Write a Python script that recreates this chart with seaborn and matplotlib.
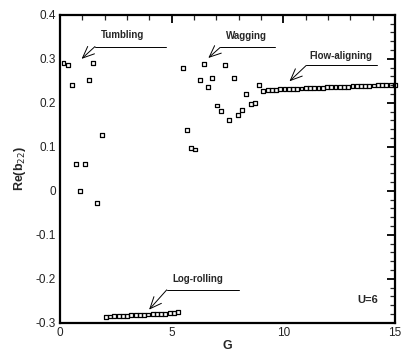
import numpy as np
import pandas as pd
import matplotlib
matplotlib.use('Agg')
import matplotlib.pyplot as plt
import seaborn as sns

# values
tumbling_g = [0.16, 0.35, 0.54, 0.73, 0.92, 1.11, 1.30, 1.49, 1.68, 1.87]
tumbling_b22 = [0.291, 0.287, 0.240, 0.062, 0.000, 0.062, 0.253, 0.290, -0.028, 0.127]

logroll_g = [2.06, 2.25, 2.44, 2.63, 2.82, 3.01, 3.20, 3.39, 3.58, 3.77,
             3.96, 4.15, 4.34, 4.53, 4.72, 4.91, 5.10, 5.29]
logroll_b22 = [-0.286, -0.2855, -0.285, -0.2845, -0.284, -0.2835, -0.283, -0.2825, -0.282,
               -0.2815, -0.281, -0.2805, -0.280, -0.2795, -0.279, -0.278, -0.277, -0.276]

wagging_g = [5.49, 5.68, 5.87, 6.06, 6.25, 6.44, 6.63, 6.82, 7.01, 7.20,
             7.39, 7.58, 7.77, 7.96, 8.15, 8.34, 8.53, 8.72, 8.91]
wagging_b22 = [0.280, 0.138, 0.098, 0.094, 0.252, 0.289, 0.236, 0.256, 0.194, 0.181,
               0.286, 0.161, 0.256, 0.172, 0.183, 0.220, 0.198, 0.200, 0.241]

flow_g = [9.10, 9.29, 9.48, 9.67, 9.86, 10.05, 10.24, 10.43, 10.62, 10.81, 11.00,
          11.19, 11.38, 11.57, 11.76, 11.95, 12.14, 12.33, 12.52, 12.71, 12.90,
          13.09, 13.28, 13.47, 13.66, 13.85, 14.04, 14.23, 14.42, 14.61, 14.80, 14.99]
flow_b22 = [0.228, 0.229, 0.2295, 0.230, 0.2305, 0.231, 0.2315, 0.232, 0.2323, 0.2326, 0.233,
            0.2334, 0.2338, 0.2342, 0.2346, 0.235, 0.2354, 0.2358, 0.2362, 0.2366, 0.237,
            0.2374, 0.2378, 0.2382, 0.2386, 0.239, 0.2394, 0.2398, 0.2402, 0.2405, 0.2408, 0.241]

yticks = [-0.3, -0.2, -0.1, 0, 0.1, 0.2, 0.3, 0.4]
ytick_labels = ['-0.3', '-0.2', '-0.1', '0', '0.1', '0.2', '0.3', '0.4']
xticks = [0, 5, 10, 15]

df = pd.DataFrame({
    'G': tumbling_g + logroll_g + wagging_g + flow_g,
    'b22': tumbling_b22 + logroll_b22 + wagging_b22 + flow_b22,
})

sns.set_theme(style='white')
plt.rcParams['font.family'] = ['Liberation Sans', 'DejaVu Sans']

fig = plt.figure(figsize=(4.02, 3.54), dpi=100)
ax = fig.add_axes([0.149, 0.088, 0.834, 0.870])

sns.scatterplot(data=df, x='G', y='b22', ax=ax, marker='s', s=8,
                facecolor='none', edgecolor='black', linewidth=0.9, clip_on=False)

ax.set_xlim(0, 15)
ax.set_ylim(-0.3, 0.4)
ax.set_xticks(xticks)
ax.set_xticklabels([str(t) for t in xticks])
ax.set_yticks(yticks)
ax.set_yticklabels(ytick_labels)
ax.set_xticks(np.arange(0, 15.01, 1), minor=True)
ax.set_yticks(np.arange(-0.3, 0.401, 0.02), minor=True)
ax.tick_params(which='major', direction='in', top=True, right=True, length=6, width=1.3,
               labelsize=8.5, pad=3, colors='black', labelcolor='#222222')
ax.tick_params(which='minor', direction='in', top=True, right=True, length=3.5, width=0.9)
for sp in ax.spines.values():
    sp.set_linewidth(1.6)
    sp.set_color('black')

ax.set_xlabel('G', fontsize=9, fontweight='bold', labelpad=1)
ax.set_ylabel('Re(b$_{22}$)', fontsize=9, fontweight='bold', labelpad=5)

# annotations: text, horizontal leader, arrow to the branch
notes = [
    ('Tumbling', 2.82, 0.355, 1.57, 4.75, 0.328, 0.97, 0.300),
    ('Wagging', 8.33, 0.351, 7.17, 9.63, 0.326, 6.64, 0.302),
    ('Flow-aligning', 12.58, 0.307, 11.02, 14.2, 0.285, 10.27, 0.249),
    ('Log-rolling', 6.18, -0.200, 4.78, 8.03, -0.225, 3.99, -0.270),
]
for label, tx, ty, x1, x2, ly, ax_, ay in notes:
    ax.text(tx, ty, label, fontsize=7, fontweight='bold', ha='center', va='center')
    ax.plot([x1, x2], [ly, ly], color='black', lw=0.7)
    ax.annotate('', xy=(ax_, ay), xytext=(x1, ly),
                arrowprops=dict(arrowstyle='->,head_length=0.7,head_width=0.3',
                                color='black', lw=0.7, shrinkA=0, shrinkB=0))

ax.text(13.79, -0.249, 'U=6', fontsize=8, fontweight='bold', ha='center', va='center')

fig.savefig('out.png', dpi=100)
